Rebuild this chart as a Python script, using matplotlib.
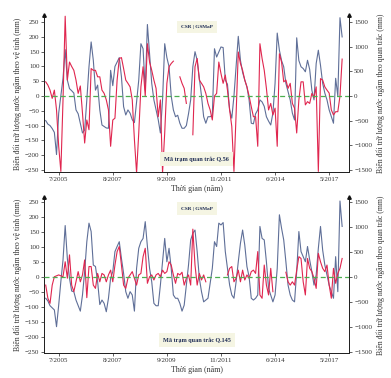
import numpy as np
import matplotlib
matplotlib.use("Agg")
import matplotlib.pyplot as plt

plt.rcParams['font.family'] = ['Liberation Serif', 'DejaVu Serif']

nan = np.nan
tick_pos = [6, 31, 56, 81, 106, 131]
tick_labels = ["7/2005", "8/2007", "9/2009", "11/2011", "6/2014", "5/2017"]

# Panel 1 (Q.56): satellite (CSR, left axis, mm) and observed (right axis, mm)
csr_q56 = [
    -83, -95, -100, -110, -123, -198, -58, 0, 60, 157,
    54, 25, 18, 10, -47, -60, -92, -125, -115, -13,
    99, 183, 121, 20, 37, -47, -98, -103, -108, -109,
    87, 35, 100, 115, 130, 65, -36, -64, -47, -58,
    -80, -90, -20, 54, 177, 160, 20, 242, 143, 43,
    -13, -47, -80, -125, -13, 177, 130, 99, 0, -47,
    -70, -65, -92, -109, -109, -100, -60, -13, 99, 150,
    121, 60, 0, -70, -92, -70, -70, -65, 160, 132,
    149, 166, 164, 54, 40, -47, -75, 0, 99, 202,
    121, 80, 54, 31, -13, -92, -94, -60, -47, -13,
    -20, -35, -70, -85, -98, -58, 43, 213, 155, 120,
    99, 43, 15, -13, -58, -81, 197, 120, 99, 93,
    82, 121, 90, 20, -13, 110, 155, 104, 43, 10,
    -13, -47, -70, -92, 60, 0, 265, 200,
]
obs_q56 = [
    288, 222, 120, -48, 120, -282, -1020, -1530, -78, 1620,
    324, 690, 600, 522, 324, 54, 204, -348, -954, -486,
    -684, 558, 522, 522, 390, 390, 120, 54, -78, -282,
    -1020, -486, -450, 324, 762, 780, 558, 324, 258, 186,
    -78, -888, -1560, -750, 186, 594, 0, 1062, 690, 522,
    324, 156, -420, -78, -1560, -750, 258, 594, 660, 708,
    nan, nan, 390, 258, 156, -150, nan, nan, -786, 594,
    762, 324, 258, 186, 54, -150, -282, -486, 0, 54,
    690, 456, 258, 426, 120, -282, -618, -1530, -360, 894,
    660, 522, 324, 186, 0, -216, -420, -420, -1020, 1062,
    762, 522, 156, -282, -150, -384, -246, -1020, 858, 690,
    288, 324, 156, 258, -150, -246, -750, -78, 288, 288,
    -180, -114, -150, 54, -30, 186, -1530, 354, 324, 186,
    120, 60, -282, -384, -318, -318, 0, 750,
]

# Panel 2 (Q.145)
csr_q145 = [
    -71, -80, -96, -103, -110, -166, -94, -15, 57, 172,
    62, -4, -47, -49, -77, -96, -114, -60, 18, 118,
    180, 152, 40, 35, -16, -92, -77, -88, -116, -71,
    -4, 18, 85, 102, 118, 62, 12, -49, -71, -49,
    -60, -114, 29, 96, 118, 129, 185, 102, 29, -16,
    -88, -96, -96, -27, 51, 129, 51, 96, 29, -60,
    -71, -71, -88, -114, -94, -27, 40, 124, 146, 157,
    85, -4, -49, -83, -77, -71, -20, 29, 118, 102,
    180, 174, 182, 85, 29, -27, -60, -71, -16, 51,
    113, 157, 107, 35, 1, -71, -77, -71, -60, 169,
    129, 124, 51, -38, -60, -83, -60, 29, 208, 163,
    124, 51, -27, -60, -77, -83, 18, 152, 85, 68,
    51, 102, 57, 18, -27, 7, 96, 169, 90, 40,
    7, -27, -49, -71, 68, -49, 254, 169,
]
obs_q145 = [
    -162, -426, -528, -162, 6, 24, 42, 24, 6, 306,
    -24, 444, -162, -294, -96, 108, -96, 42, 342, -414,
    210, 210, -162, -228, 72, -96, 72, 42, -96, 42,
    138, -96, 240, 510, 612, 240, -162, -228, -24, 42,
    108, -24, -162, 42, 72, 408, 576, -126, 6, 42,
    -60, 42, 72, 6, 138, 72, 108, 306, 240, 42,
    -126, 72, 42, 96, -162, -24, 42, -162, 960, 240,
    -162, 72, -60, 42, -96, nan, nan, nan, nan, nan,
    nan, nan, nan, nan, 42, 174, 210, -96, -24, 138,
    -96, 138, -60, 42, -24, 108, 138, 72, 510, -360,
    -426, 240, -162, -360, 174, -294, nan, nan, nan, nan,
    nan, 96, -96, -162, -96, -162, 138, 408, 372, -96,
    -360, 372, 174, 108, -24, -228, 474, 306, 174, 108,
    240, -162, -426, 174, -126, 72, 174, 372,
]

panels = [
    (csr_q56, obs_q56, "Mã trạm quan trắc Q.56", (-258, 274)),
    (csr_q145, obs_q145, "Mã trạm quan trắc Q.145", (-255, 268)),
]

BLUE = "#5f6f98"
RED = "#e0264f"
GREEN = "#4caf50"
TXT = "#333333"
BOXTXT = "#1f2d55"
BOXBG = "#f5f5e3"

fig = plt.figure(figsize=(3.91, 3.78), dpi=100)
rects = [[0.1133, 0.5442, 0.780, 0.416], [0.1133, 0.0653, 0.780, 0.414]]

for (csr, obs, station, ylim), rect in zip(panels, rects):
    ax = fig.add_axes(rect)
    x = np.arange(len(csr))
    ax.plot(x, csr, color=BLUE, lw=0.8, zorder=2)
    ax.set_ylim(*ylim)
    ax.set_xlim(-0.65, 140.3)
    ax.set_yticks(np.arange(-250, 251, 50))
    ax.set_xticks(tick_pos)
    ax.set_xticklabels(tick_labels)
    ax.spines['top'].set_visible(False)
    for s in ax.spines.values():
        s.set_linewidth(0.7)
        s.set_color('#222222')
    ax.tick_params(labelsize=5, length=2, width=0.5, pad=1.5, colors='#222222', labelcolor=TXT)
    ax.set_ylabel("Biến đổi trữ lượng nước ngầm theo vệ tinh (mm)", fontsize=5.6, labelpad=2, color=TXT)
    ax.set_xlabel("Thời gian (năm)", fontsize=5.8, labelpad=2, color=TXT)

    ax2 = ax.twinx()
    ax2.plot(np.arange(len(obs)), obs, color=RED, lw=0.8, zorder=3)
    ax2.axhline(0, color=GREEN, lw=0.9, ls=(0, (4, 2.5)), zorder=4)
    ax2.set_ylim(ylim[0] * 6, ylim[1] * 6)
    ax2.set_yticks(np.arange(-1500, 1501, 500))
    ax2.spines['top'].set_visible(False)
    for s in ax2.spines.values():
        s.set_linewidth(0.7)
        s.set_color('#222222')
    ax2.tick_params(labelsize=5, length=2, width=0.5, pad=1.5, colors='#222222', labelcolor=TXT)
    ax2.set_ylabel("Biến đổi trữ lượng nước ngầm theo quan trắc (mm)", fontsize=5.6,
                   labelpad=3, color=TXT)

    # arrowheads at top of vertical axes
    ax2.plot([0, 1], [1, 1], transform=ax2.transAxes, marker='^', ls='none',
             color='#111111', markersize=2.5, clip_on=False, zorder=5)

    ax2.text(0.5, 0.925, "CSR | GSMaP", transform=ax2.transAxes, ha='center', va='center',
             fontsize=3.8, fontweight='bold', color=BOXTXT, zorder=6,
             bbox=dict(facecolor=BOXBG, edgecolor='none', boxstyle='square,pad=0.8'))
    ax2.text(0.5, 0.085, station, transform=ax2.transAxes, ha='center', va='center',
             fontsize=4.4, fontweight='bold', color=BOXTXT, zorder=6,
             bbox=dict(facecolor=BOXBG, edgecolor='none', boxstyle='square,pad=0.7'))

fig.savefig("out.png", dpi=100)
